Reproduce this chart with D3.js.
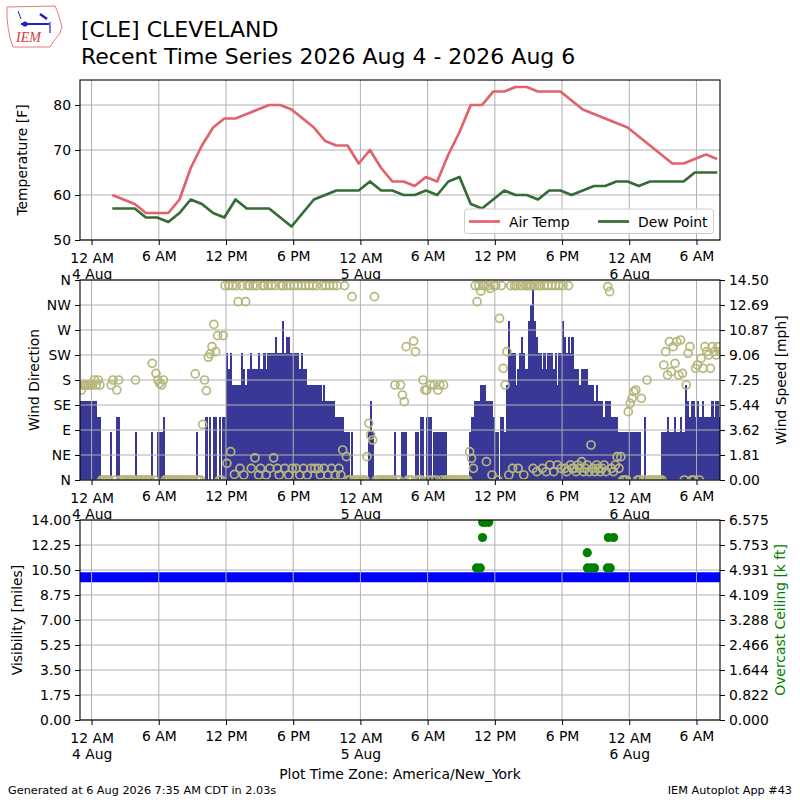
<!DOCTYPE html>
<html>
<head>
<meta charset="utf-8">
<script src="https://cdn.jsdelivr.net/npm/d3@7"></script>
<style>
body { margin: 0; background: #fff; }
text { font-family: "DejaVu Sans", sans-serif; }
</style>
</head>
<body>
<svg id="chart" width="800" height="800"></svg>
<script>
// hourly METAR obs (:51) starting 4 Aug 01:51
const obsStart = new Date(2026, 7, 4, 1, 51);
const airTemp = [60, 59, 58, 56, 56, 56, 59, 66, 71, 75, 77, 77, 78, 79, 80, 80, 79, 77, 75, 72, 71, 71, 67,
  70, 66, 63, 63, 62, 64, 63, 69, 74, 80, 80, 83, 83, 84, 84, 83, 83, 83, 81, 79, 78, 77, 76, 75,
  73, 71, 69, 67, 67, 68, 69, 68];
const dewPoint = [57, 57, 57, 55, 55, 54, 56, 59, 58, 56, 55, 59, 57, 57, 57, 55, 53, 56, 59, 60, 61, 61, 61,
  63, 61, 61, 60, 60, 61, 60, 63, 64, 58, 57, 59, 61, 60, 60, 59, 61, 61, 60, 61, 62, 62, 63, 63,
  62, 63, 63, 63, 63, 65, 65, 65];

const windStart = new Date(2026, 7, 3, 23, 0);
const windSpeedKt = [
  5, 5, 5, 5, 5, 5,   5, 5, 5, 4, 4, 0,   0, 0, 0, 0, 3, 0,   0, 4, 4, 0, 0, 0,
  0, 0, 0, 0, 0, 3,   0, 0, 0, 0, 0, 0,   0, 0, 3, 0, 0, 3,   3, 3, 4, 0, 0, 0,
  0, 0, 0, 0, 0, 0,   0, 0, 0, 0, 0, 0,   0, 0, 3, 0, 0, 0,   0, 4, 0, 4, 0, 4,
  4, 0, 4, 0, 4, 4,   8, 7, 8, 6, 6, 6,   6, 6, 8, 7, 6, 7,   7, 8, 7, 7, 7, 8,
  7, 7, 8, 7, 8, 8,   8, 8, 9, 8, 8, 8,   10, 8, 9, 9, 8, 8,  8, 8, 8, 7, 8, 7,
  7, 6, 6, 6, 6, 6,   6, 6, 6, 5, 6, 5,   5, 5, 5, 5, 4, 4,   4, 4, 4, 3, 3, 3,
  0, 3, 0, 0, 0, 0,   0, 0, 0, 0, 3, 5,   3, 0, 0, 0, 0, 0,   0, 0, 0, 0, 0, 0,
  3, 0, 0, 0, 3, 3,   3, 0, 0, 0, 0, 3,   3, 0, 4, 4, 0, 4,   4, 4, 0, 3, 3, 3,
  3, 3, 3, 3, 0, 0,   0, 0, 0, 0, 0, 0,   0, 0, 0, 0, 3, 4,   4, 5, 5, 5, 6, 6,
  6, 5, 5, 5, 5, 4,   3, 3, 0, 4, 4, 3,   6, 10, 8, 8, 8, 6,  7, 8, 9, 8, 7, 7,
  10, 11, 12, 10, 9, 8,  8, 7, 8, 7, 8, 8,  8, 7, 8, 6, 8, 8,  10, 9, 8, 9, 8, 9,
  7, 7, 7, 6, 7, 7,   7, 7, 6, 6, 6, 5,   6, 5, 5, 5, 4, 5,   5, 5, 4, 4, 4, 4,
  3, 3, 3, 3, 3, 3,   3, 3, 3, 3, 3, 3,   0, 0, 4, 0, 0, 0,   0, 0, 0, 0, 0, 3,
  3, 3, 4, 3, 3, 3,   4, 3, 3, 4, 3, 3,   6, 5, 4, 5, 5, 4,   5, 4, 4, 5, 4, 4,
  4, 4, 5, 4, 5, 5,   4
];
const windDir = [
  162, 171, 171, 171, 171, 171,   171, 180, 171, 180, 171, 0,   0, 0, 0, 0, 171, 180,   0, 162, 180, 0, 0, 0,
  0, 0, 0, 0, 0, 180,   0, 0, 0, 0, 0, 0,   0, 0, 210, 0, 192, 180,   174, 171, 180, 0, 0, 0,
  0, 0, 0, 0, 0, 0,   0, 0, 0, 0, 0, 0,   0, 191, 0, 0, 0, 100,   180, 161, 221, 227, 240, 280,
  231, 260, 0, 0, 260, 350,   30, 350, 51, 350, 10, 350,   321, 21, 350, 9, 321, 350,   350, 21, 350, 40, 350, 9,
  21, 350, 350, 9, 350, 21,   350, 40, 350, 21, 9, 350,   350, 21, 350, 9, 350, 21,   350, 21, 350, 9, 350, 21,
  350, 9, 350, 21, 350, 21,   350, 21, 9, 350, 21, 350,   9, 350, 21, 350, 9, 350,   21, 9, 54, 350, 42, 0,
  0, 330, 0, 0, 0, 0,   0, 0, 0, 42, 102, 81,   72, 330, 0, 0, 0, 0,   0, 0, 0, 0, 0, 0,
  171, 0, 0, 171, 153, 141,   240, 0, 0, 0, 250, 231,   0, 0, 0, 180, 162, 162,   0, 171, 0, 171, 0, 162,
  171, 0, 171, 0, 0, 0,   0, 0, 0, 0, 0, 0,   0, 0, 0, 0, 51, 39,   21, 350, 321, 350, 340, 350,
  350, 33, 350, 345, 9, 350,   350, 0, 291, 350, 201, 171,   231, 9, 350, 21, 350, 350,   21, 350, 350, 9, 350, 350,
  350, 350, 21, 350, 15, 350,   350, 21, 350, 15, 350, 27,   350, 15, 350, 27, 350, 21,   350, 21, 15, 350, 27, 21,
  21, 15, 27, 21, 33, 15,   21, 27, 15, 63, 21, 15,   27, 21, 15, 21, 27, 15,   348, 339, 21, 15, 27, 42,
  21, 42, 0, 0, 0, 123,   138, 147, 159, 162, 0, 0,   147, 0, 0, 180, 0, 0,   0, 0, 0, 0, 0, 0,
  207, 231, 189, 249, 195, 240,   210, 249, 189, 252, 192, 0,   171, 228, 240, 0, 0, 201,   207, 0, 219, 201, 240, 231,
  225, 201, 240, 231, 225, 240,   231
];

// visibility, hourly from 3 Aug 23:00
const visStart = new Date(2026, 7, 3, 23, 0);
const visibility = [10, 10, 10, 10, 10, 10, 10, 10, 10, 10, 10, 10, 10, 10, 10, 10, 10, 10, 10, 10,
  10, 10, 10, 10, 10, 10, 10, 10, 10, 10, 10, 10, 10, 10, 10, 10, 10, 10, 10, 10,
  10, 10, 10, 10, 10, 10, 10, 10, 10, 10, 10, 10, 10, 10, 10, 10, 10, 10];

// overcast ceiling reports
const ceilingTimes = ['2026-08-05 10:22', '2026-08-05 10:42', '2026-08-05 10:54', '2026-08-05 10:55',
  '2026-08-05 11:10', '2026-08-05 11:27', '2026-08-05 20:15', '2026-08-05 20:16', '2026-08-05 20:35',
  '2026-08-05 20:54', '2026-08-05 22:03', '2026-08-05 22:18', '2026-08-05 22:08', '2026-08-05 22:36'];
const ceilingKft = [5.0, 5.0, 6.0, 6.5, 6.5, 6.5, 5.5, 5.0, 5.0, 5.0, 5.0, 5.0, 6.0, 6.0];

const tempTicks = [50, 60, 70, 80];
const dirTicks = [0, 45, 90, 135, 180, 225, 270, 315, 360];
const dirLabels = ['N', 'NE', 'E', 'SE', 'S', 'SW', 'W', 'NW', 'N'];
const speedLabels = ['0.00', '1.81', '3.62', '5.44', '7.25', '9.06', '10.87', '12.69', '14.50'];
const visLabels = ['0.00', '1.75', '3.50', '5.25', '7.00', '8.75', '10.50', '12.25', '14.00'];
const ceilLabels = ['0.000', '0.822', '1.644', '2.466', '3.288', '4.109', '4.931', '5.753', '6.575'];

const FS = 13.9;
const KT2MPH = 1.15078;
const left = 80, right = 720;
const svg = d3.select('#chart');

const tStart = new Date(2026, 7, 3, 22, 58);
const tEnd = new Date(2026, 7, 6, 8, 6);
const x = d3.scaleTime().domain([tStart, tEnd]).range([left, right]);
const xTicks = d3.timeHour.every(6).range(new Date(2026, 7, 4, 0, 0), tEnd);
const hourFmt = d3.timeFormat('%-I %p');
const dayFmt = d3.timeFormat('%-d %b');

const addMin = (d, m) => new Date(d.getTime() + m * 60000);
const obsTimes = airTemp.map((_, i) => addMin(obsStart, i * 60));
const windTimes = windSpeedKt.map((_, i) => addMin(windStart, i * 10));
const visTimes = visibility.map((_, i) => addMin(visStart, i * 60));
const parseT = d3.timeParse('%Y-%m-%d %H:%M');

function panel(id, top, bottom) {
  const g = svg.append('g');
  g.append('rect').attr('x', left).attr('y', top).attr('width', right - left).attr('height', bottom - top).attr('fill', '#fff');
  svg.append('clipPath').attr('id', id).append('rect')
    .attr('x', left).attr('y', top).attr('width', right - left).attr('height', bottom - top);
  return g;
}

function grid(g, top, bottom, yScale, yTicks) {
  const gg = g.append('g').attr('stroke', '#b0b0b0').attr('stroke-width', 1);
  gg.selectAll(null).data(xTicks).join('line')
    .attr('x1', d => x(d)).attr('x2', d => x(d)).attr('y1', top).attr('y2', bottom);
  gg.selectAll(null).data(yTicks).join('line')
    .attr('x1', left).attr('x2', right).attr('y1', d => yScale(d)).attr('y2', d => yScale(d));
}

function frame(g, top, bottom) {
  g.append('rect').attr('x', left).attr('y', top).attr('width', right - left).attr('height', bottom - top)
    .attr('fill', 'none').attr('stroke', '#000').attr('stroke-width', 1.1);
}

function xAxis(g, y0) {
  const ax = g.append('g').attr('transform', `translate(0,${y0})`)
    .call(d3.axisBottom(x).tickValues(xTicks).tickSize(5).tickFormat(''));
  ax.select('.domain').remove();
  ax.selectAll('.tick line').attr('stroke', '#000');
  ax.selectAll('.tick text').remove();
  ax.selectAll('.tick').each(function (d) {
    const t = d3.select(this).append('text').attr('fill', '#000').attr('text-anchor', 'middle').style('font-size', FS + 'px');
    const midnight = d.getHours() === 0;
    t.append('tspan').attr('x', 0).attr('y', midnight ? 22.5 : 20.5).text(hourFmt(d));
    if (midnight) t.append('tspan').attr('x', 0).attr('y', 38.5).text(dayFmt(d));
  });
}

function yAxis(g, scale, ticks, labels, side) {
  const ax = side === 'left' ? d3.axisLeft(scale) : d3.axisRight(scale);
  const a = g.append('g').attr('transform', `translate(${side === 'left' ? left : right},0)`)
    .call(ax.tickValues(ticks).tickSize(5).tickPadding(4).tickFormat((d, i) => labels[i]));
  a.select('.domain').remove();
  a.selectAll('.tick line').attr('stroke', '#000');
  a.selectAll('.tick text').attr('fill', '#000').style('font-size', FS + 'px');
}

function yLabel(g, text, cx, cy, color) {
  g.append('text').attr('transform', `translate(${cx},${cy}) rotate(-90)`)
    .attr('text-anchor', 'middle').attr('fill', color || '#000').style('font-size', FS + 'px').text(text);
}

// ---- title + logo
const logo = svg.append('g');
logo.append('path')
  .attr('d', 'M7,7 L55,6 L58,13 L62,27 L60,33 L57,37 L53,42 L50,47 L13,47 L10,38 L8,27 L7,17 Z')
  .attr('fill', 'none').attr('stroke', '#e87a7a').attr('stroke-width', 1);
logo.append('line').attr('x1', 21).attr('y1', 24).attr('x2', 49).attr('y2', 24).attr('stroke', '#2020c8').attr('stroke-width', 2);
logo.append('circle').attr('cx', 25).attr('cy', 24).attr('r', 2.6).attr('fill', '#2020c8');
logo.append('line').attr('x1', 40).attr('y1', 14).attr('x2', 47).attr('y2', 19).attr('stroke', '#2020c8').attr('stroke-width', 2.5);
logo.append('line').attr('x1', 50).attr('y1', 22).attr('x2', 50).attr('y2', 33).attr('stroke', '#2020c8').attr('stroke-width', 1.2);
logo.append('line').attr('x1', 18).attr('y1', 11).attr('x2', 21).attr('y2', 19).attr('stroke', '#2020c8').attr('stroke-width', 1);
logo.append('text').attr('x', 16).attr('y', 42).attr('fill', '#d83a3a')
  .style('font-family', '"Liberation Serif", serif').style('font-style', 'italic').style('font-size', '14px').text('IEM');

svg.append('text').attr('x', 81).attr('y', 37).style('font-size', '22px').attr('fill', '#000').text('[CLE] CLEVELAND');
svg.append('text').attr('x', 81).attr('y', 64).style('font-size', '22px').attr('fill', '#000').text('Recent Time Series 2026 Aug 4 - 2026 Aug 6');

// ---- panel 1: temperature
const yT = d3.scaleLinear().domain([50, 85.56]).range([240, 80]);
const p1 = panel('clip1', 80, 240);
grid(p1, 80, 240, yT, tempTicks);
const tempLine = () => d3.line().x((d, i) => x(obsTimes[i])).y(d => yT(d));
const lines = p1.append('g').attr('clip-path', 'url(#clip1)').attr('fill', 'none').attr('stroke-width', 2.7).attr('stroke-linejoin', 'round');
lines.append('path').datum(airTemp).attr('d', tempLine()).attr('stroke', '#e0636c');
lines.append('path').datum(dewPoint).attr('d', tempLine()).attr('stroke', '#356b35');
frame(p1, 80, 240);
xAxis(p1, 240);
yAxis(p1, yT, tempTicks, tempTicks.map(String), 'left');
yLabel(p1, 'Temperature [F]', 27, 160);

const leg = p1.append('g');
leg.append('rect').attr('x', 464.5).attr('y', 209).attr('width', 249).attr('height', 24.5).attr('rx', 3)
  .attr('fill', '#fff').attr('fill-opacity', 0.8).attr('stroke', '#cccccc');
[['Air Temp', '#e0636c', 469], ['Dew Point', '#356b35', 598]].forEach(([name, col, lx]) => {
  leg.append('line').attr('x1', lx).attr('x2', lx + 31).attr('y1', 221.5).attr('y2', 221.5).attr('stroke', col).attr('stroke-width', 2.7);
  leg.append('text').attr('x', lx + 40).attr('y', 226.5).style('font-size', FS + 'px').attr('fill', '#000').text(name);
});

// ---- panel 2: wind
const yDir = d3.scaleLinear().domain([0, 360]).range([480, 280]);
const ySpd = d3.scaleLinear().domain([0, 14.5]).range([480, 280]);
const p2 = panel('clip2', 280, 480);
const bars = p2.append('g').attr('clip-path', 'url(#clip2)').attr('shape-rendering', 'crispEdges');
bars.selectAll('rect').data(windSpeedKt).join('rect')
  .attr('x', (d, i) => x(windTimes[i]))
  .attr('width', (d, i) => x(addMin(windTimes[i], 10)) - x(windTimes[i]) + 0.3)
  .attr('y', d => ySpd(d * KT2MPH))
  .attr('height', d => ySpd(0) - ySpd(d * KT2MPH))
  .attr('fill', '#3a3896');
grid(p2, 280, 480, yDir, dirTicks);
p2.append('g').attr('clip-path', 'url(#clip2)').selectAll('circle').data(windDir).join('circle')
  .attr('cx', (d, i) => x(addMin(windTimes[i], 5)))
  .attr('cy', d => yDir(d))
  .attr('r', 4)
  .attr('fill', 'none').attr('stroke', '#b6b77c').attr('stroke-width', 1.7);
frame(p2, 280, 480);
xAxis(p2, 480);
yAxis(p2, yDir, dirTicks, dirLabels, 'left');
yAxis(p2, ySpd, speedLabels.map(Number), speedLabels, 'right');
yLabel(p2, 'Wind Direction', 39, 380);
yLabel(p2, 'Wind Speed [mph]', 786, 380);

// ---- panel 3: visibility + ceiling
const yVis = d3.scaleLinear().domain([0, 14]).range([720, 520]);
const yCeil = d3.scaleLinear().domain([0, 6.575]).range([720, 520]);
const p3 = panel('clip3', 520, 720);
p3.append('g').attr('clip-path', 'url(#clip3)').append('path').datum(visibility)
  .attr('d', d3.line().x((d, i) => x(visTimes[i])).y(d => yVis(d)))
  .attr('fill', 'none').attr('stroke', '#0000ff').attr('stroke-width', 10).attr('stroke-linecap', 'square');
grid(p3, 520, 720, yVis, visLabels.map(Number));
p3.append('g').attr('clip-path', 'url(#clip3)').selectAll('circle').data(ceilingKft).join('circle')
  .attr('cx', (d, i) => x(parseT(ceilingTimes[i])))
  .attr('cy', d => yCeil(d))
  .attr('r', 4.6).attr('fill', '#008000');
frame(p3, 520, 720);
xAxis(p3, 720);
yAxis(p3, yVis, visLabels.map(Number), visLabels, 'left');
yAxis(p3, yCeil, ceilLabels.map(Number), ceilLabels, 'right');
yLabel(p3, 'Visibility [miles]', 22, 620);
yLabel(p3, 'Overcast Ceiling [k ft]', 785, 620, '#008000');

svg.append('text').attr('x', 400).attr('y', 779).attr('text-anchor', 'middle').style('font-size', FS + 'px')
  .attr('fill', '#000').text('Plot Time Zone: America/New_York');
svg.append('text').attr('x', 8).attr('y', 793.5).style('font-size', '11.25px').attr('fill', '#000')
  .text('Generated at 6 Aug 2026 7:35 AM CDT in 2.03s');
svg.append('text').attr('x', 792).attr('y', 793.5).attr('text-anchor', 'end').style('font-size', '11.25px').attr('fill', '#000')
  .text('IEM Autoplot App #43');
</script>
</body>
</html>
